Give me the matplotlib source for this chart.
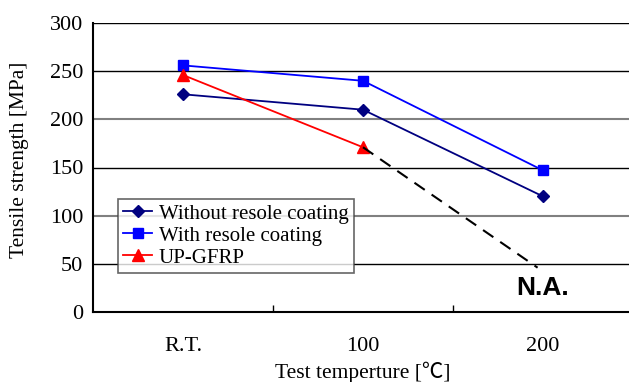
import matplotlib.pyplot as plt
import numpy as np

plt.rcParams['font.family'] = ['Liberation Serif', 'Noto Sans CJK JP', 'DejaVu Sans']

categories = ['R.T.', '100', '200']
without_coat = [226, 210, 120]
with_coat = [256, 240, 147]
up_gfrp = [246, 171]
# dashed extrapolation of UP-GFRP towards 200 (not available)
na_x = [1, 1.97]
na_y = [171, 46]

fig = plt.figure(figsize=(6.29, 3.82), dpi=100)
ax = fig.add_axes([93/629, 1-312/382, 540/629, 289/382])

x = np.arange(len(categories))
ax.plot(x, without_coat, color='#000080', marker='D', markersize=6, lw=1.3,
        label='Without resole coating')
ax.plot(x, with_coat, color='#0000ff', marker='s', markersize=7, lw=1.3,
        label='With resole coating')
ax.plot(x[:2], up_gfrp, color='#ff0000', marker='^', markersize=8, lw=1.3,
        label='UP-GFRP')
ax.plot(na_x, na_y, color='black', ls=(0, (6, 4)), lw=1.5)
ax.text(2.0, 25, 'N.A.', family='Liberation Sans', fontweight='bold',
        fontsize=19, ha='center', va='center')

ax.set_xlim(-0.5, 2.5)
ax.set_ylim(0, 300)
ax.set_yticks(np.arange(0, 301, 50))
ax.set_xticks(x)
ax.set_xticklabels(categories)
ax.set_xticks([0.5, 1.5], minor=True)
ax.tick_params(axis='x', which='major', length=0, pad=18, labelsize=16)
ax.tick_params(axis='x', which='minor', direction='in', length=5, width=1)
ax.tick_params(axis='y', length=0, pad=7, labelsize=16)

ax.grid(axis='y', color='black', lw=1)
gl = ax.get_ygridlines()
for i, g in enumerate(gl):
    if i in (2, 4):
        g.set_color('#808080')
        g.set_linewidth(1.5)
ax.set_axisbelow(True)

for s in ['top', 'right']:
    ax.spines[s].set_visible(False)
ax.spines['left'].set_linewidth(1.5)
ax.spines['bottom'].set_linewidth(1.5)

ax.set_ylabel('Tensile strength [MPa]', fontsize=15.5)
ax.yaxis.set_label_coords(-0.118, 0.526)
ax.set_xlabel('Test temperture [\u2103]', fontsize=15.5, labelpad=4)

leg = ax.legend(loc='lower left', bbox_to_anchor=(25/540, 39/289), fontsize=15,
                frameon=True, fancybox=False, edgecolor='#404040',
                handlelength=1.4, handletextpad=0.3, borderpad=0.25,
                labelspacing=0.12, borderaxespad=0)
leg.get_frame().set_linewidth(1.2)

fig.savefig('out.png', dpi=100)
